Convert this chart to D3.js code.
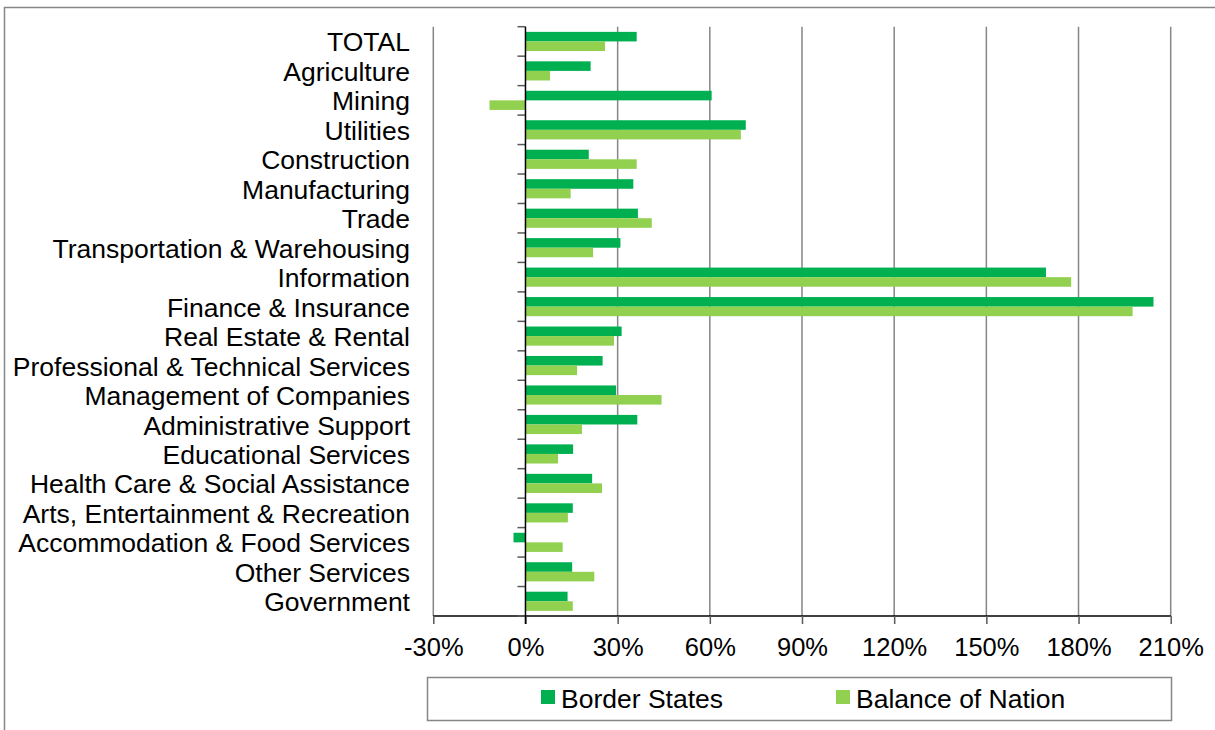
<!DOCTYPE html>
<html>
<head>
<meta charset="utf-8">
<script src="https://cdn.jsdelivr.net/npm/d3@7/dist/d3.min.js"></script>
<style>
  html, body { margin: 0; padding: 0; background: #fff; }
  svg { display: block; }
  text { font-family: "Liberation Sans", Arial, sans-serif; fill: #000; }
</style>
</head>
<body>
<svg id="chart" width="1215" height="730"></svg>
<script>
// Employment change by industry, Border States vs. Balance of Nation (percent)
const categories = [
  "TOTAL", "Agriculture", "Mining", "Utilities", "Construction", "Manufacturing",
  "Trade", "Transportation & Warehousing", "Information", "Finance & Insurance",
  "Real Estate & Rental", "Professional & Technical Services", "Management of Companies",
  "Administrative Support", "Educational Services", "Health Care & Social Assistance",
  "Arts, Entertainment & Recreation", "Accommodation & Food Services", "Other Services",
  "Government"
];
const borderStates = [
  36.2, 21.2, 60.6, 71.7, 20.6, 35.1, 36.6, 30.9, 169.4, 204.4,
  31.3, 25.1, 29.5, 36.4, 15.5, 21.7, 15.4, -3.9, 15.2, 13.7
];
const balanceOfNation = [
  25.9, 8.0, -11.7, 70.1, 36.2, 14.7, 41.1, 22.0, 177.6, 197.6,
  28.8, 16.8, 44.3, 18.4, 10.6, 24.9, 13.8, 12.1, 22.4, 15.4
];
const seriesNames = ["Border States", "Balance of Nation"];
const seriesColors = ["#00B050", "#92D050"];
const xTicks = [-30, 0, 30, 60, 90, 120, 150, 180, 210];

const svg = d3.select("#chart");

// outer chart frame
svg.append("rect")
  .attr("x", 4.5).attr("y", 7.5)
  .attr("width", 1230).attr("height", 740)
  .attr("fill", "none").attr("stroke", "#868686").attr("stroke-width", 1.5);

const plot = { left: 433.3, right: 1170.7, top: 26.7, bottom: 616 };

const x = d3.scaleLinear().domain([-30, 210]).range([plot.left, plot.right]);
const y = d3.scaleBand().domain(categories)
  .range([plot.top, plot.bottom]).paddingInner(0.35).paddingOuter(0.175);
const ySub = d3.scaleBand().domain(seriesNames).range([0, y.bandwidth()]);

// vertical gridlines (skip zero, drawn as the axis)
svg.append("g").selectAll("line")
  .data(xTicks.filter(t => t !== 0))
  .join("line")
  .attr("x1", d => x(d)).attr("x2", d => x(d))
  .attr("y1", plot.top).attr("y2", plot.bottom)
  .attr("stroke", "#868686").attr("stroke-width", 1.5);

// bars
const rows = categories.map((c, i) => ({ c, vals: [borderStates[i], balanceOfNation[i]] }));
const groups = svg.append("g").selectAll("g")
  .data(rows).join("g")
  .attr("transform", d => `translate(0,${y(d.c)})`);
groups.selectAll("rect")
  .data(d => d.vals.map((v, k) => ({ v, k })))
  .join("rect")
  .attr("x", d => x(Math.min(0, d.v)))
  .attr("width", d => Math.abs(x(d.v) - x(0)))
  .attr("y", d => ySub(seriesNames[d.k]))
  .attr("height", ySub.bandwidth())
  .attr("fill", d => seriesColors[d.k]);

// bottom axis
const xAxis = d3.axisBottom(x).tickValues(xTicks)
  .tickFormat(d => d + "%").tickSize(8).tickPadding(14);
const gx = svg.append("g").attr("transform", `translate(0,${plot.bottom})`).call(xAxis);
gx.select(".domain").attr("stroke", "#000").attr("stroke-width", 1.5)
  .attr("d", `M${plot.left},0H${plot.right}`);
gx.selectAll(".tick line").attr("stroke", "#595959").attr("stroke-width", 1.5);
gx.selectAll(".tick text").attr("font-size", 25.5)
  .attr("font-family", "'Liberation Sans', Arial, sans-serif").attr("fill", "#000");

// category axis at zero
const band = y.step();
const boundaries = d3.range(categories.length + 1).map(i => plot.top + i * band);
svg.append("g").selectAll("line")
  .data(boundaries).join("line")
  .attr("x1", x(0) - 8).attr("x2", x(0))
  .attr("y1", d => d).attr("y2", d => d)
  .attr("stroke", "#595959").attr("stroke-width", 1.5);
svg.append("line")
  .attr("x1", x(0)).attr("x2", x(0))
  .attr("y1", plot.top).attr("y2", plot.bottom + 8)
  .attr("stroke", "#000").attr("stroke-width", 1.5);

// category labels
svg.append("g").selectAll("text")
  .data(categories).join("text")
  .attr("x", 410)
  .attr("y", d => y(d) + y.bandwidth() / 2 + 0.5)
  .attr("dy", "0.36em")
  .attr("text-anchor", "end")
  .attr("font-size", 26.5)
  .text(d => d);

// legend
const legend = svg.append("g");
legend.append("rect")
  .attr("x", 427.5).attr("y", 677.5).attr("width", 744).attr("height", 43)
  .attr("fill", "#fff").attr("stroke", "#868686").attr("stroke-width", 1.5);
const legendX = [541, 836];
seriesNames.forEach((name, k) => {
  legend.append("rect")
    .attr("x", legendX[k]).attr("y", 690).attr("width", 14).attr("height", 14)
    .attr("fill", seriesColors[k]);
  legend.append("text")
    .attr("x", legendX[k] + 20).attr("y", 698).attr("dy", "0.36em")
    .attr("font-size", 26.5).text(name);
});
</script>
</body>
</html>
